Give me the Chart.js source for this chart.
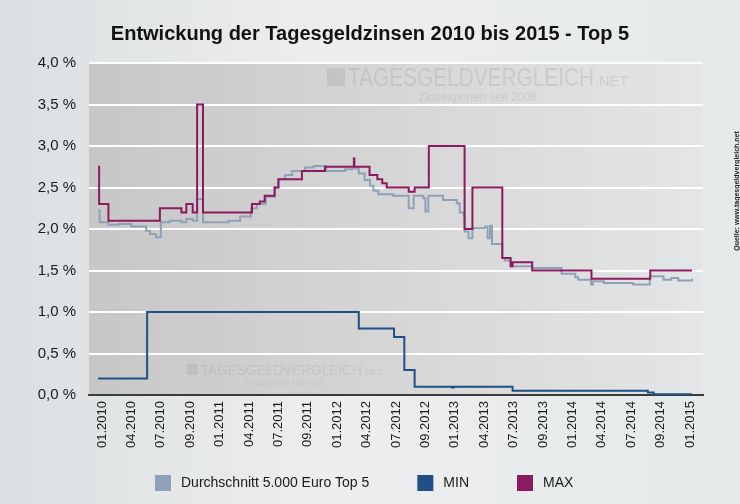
<!DOCTYPE html>
<html>
<head>
<meta charset="utf-8">
<script src="https://cdn.jsdelivr.net/npm/chart.js@4.4.1/dist/chart.umd.min.js"></script>
<style>
  html, body { margin: 0; padding: 0; background: #e9ebec; }
  #wrap { width: 740px; height: 504px; position: relative; }
</style>
</head>
<body>
<div id="wrap"><canvas id="c" width="740" height="504"></canvas></div>
<script>
// ---- Data (x = months since 01.2010, y = interest rate in %) ----
const tickMonths = [0,3,6,9,12,15,18,21,24,27,30,33,36,39,42,45,48,51,54,57,60];
const tickLabels = ["01.2010","04.2010","07.2010","09.2010","01.2011","04.2011","07.2011","09.2011",
                    "01.2012","04.2012","07.2012","09.2012","01.2013","04.2013","07.2013","09.2013",
                    "01.2014","04.2014","07.2014","09.2014","01.2015"];

const avgMonths = [-0.4,-0.25,0.65,1.7,3.0,4.5,4.9,5.5,6.0,6.9,8.1,8.6,9.25,9.7,10.3,12.9,14.1,15.2,15.8,16.7,
  17.65,18.0,18.7,19.4,20.7,21.6,22.9,24.8,25.5,26.2,26.8,27.35,27.7,28.2,29.7,31.3,31.8,32.8,33.0,33.3,
  34.8,36.2,36.5,36.9,37.0,37.4,37.8,39.1,39.35,39.6,39.8,40.85,41.1,41.7,43.9,46.9,48.3,48.6,49.9,50.1,
  51.2,54.2,55.9,57.3,58.1,58.8,60.2];
const avgValues = [2.22,2.08,2.05,2.06,2.03,1.98,1.94,1.90,2.08,2.10,2.08,2.12,2.10,2.36,2.08,2.10,2.15,2.25,2.30,2.39,
  2.50,2.60,2.65,2.70,2.74,2.76,2.70,2.72,2.73,2.67,2.59,2.52,2.46,2.42,2.40,2.25,2.40,2.37,2.21,2.40,
  2.35,2.31,2.20,2.16,1.97,1.89,2.01,2.03,1.89,2.04,1.82,1.65,1.62,1.55,1.53,1.46,1.42,1.39,1.33,1.37,
  1.35,1.33,1.43,1.39,1.41,1.38,1.40];

const minMonths = [-0.4,4.6,26.2,29.8,30.85,31.9,35.7,35.9,41.9,55.7,56.3,60.2];
const minValues = [0.20,1.00,0.80,0.70,0.30,0.10,0.09,0.10,0.05,0.03,0.01,0.01];

const maxMonths = [-0.4,-0.3,0.65,5.9,8.1,8.6,9.25,9.7,10.3,15.3,16.1,16.6,17.6,18.0,20.4,22.75,25.7,25.75,
  27.3,28.1,28.6,29.05,31.3,31.9,33.35,37.0,37.8,40.85,41.7,41.9,43.9,49.95,55.95,60.2];
const maxValues = [2.75,2.30,2.10,2.25,2.20,2.30,2.20,3.50,2.20,2.30,2.33,2.40,2.50,2.60,2.70,2.75,2.85,2.75,
  2.65,2.60,2.55,2.50,2.45,2.50,3.00,2.00,2.50,1.65,1.55,1.60,1.50,1.40,1.50,1.50];

const seriesNames = ["Durchschnitt 5.000 Euro Top 5", "MIN", "MAX"];
const seriesColors = ["#8ea1b6", "#1f4f83", "#8c1a5f"];

const titleText = "Entwickung der Tagesgeldzinsen 2010 bis 2015 - Top 5";
const sourceText = "Quelle: www.tagesgeldvergleich.net";

const toPts = (xs, ys) => xs.map((x, i) => ({ x: x, y: ys[i] }));
const FONT = "'Liberation Sans', Arial, sans-serif";

const decoPlugin = {
  id: 'deco',
  beforeDraw(chart) {
    const { ctx, chartArea: a, width, height } = chart;
    ctx.save();
    // page background
    const g = ctx.createLinearGradient(0, 0, width, 0);
    g.addColorStop(0, '#dcdfe1');
    g.addColorStop(0.45, '#eceeef');
    g.addColorStop(1, '#e6e9ea');
    ctx.fillStyle = g;
    ctx.fillRect(0, 0, width, height);
    // plot area background
    const pg = ctx.createLinearGradient(a.left, 0, a.right, 0);
    pg.addColorStop(0, '#c7c7c7');
    pg.addColorStop(0.5, '#d6d6d6');
    pg.addColorStop(1, '#e4e5e6');
    ctx.fillStyle = pg;
    ctx.fillRect(a.left, a.top, a.right - a.left, a.bottom - a.top);
    ctx.restore();
  },
  beforeDatasetsDraw(chart) {
    const { ctx } = chart;
    ctx.save();
    const wm = (x, y, big, w1, w2, subX, subY, subSize, subW, alpha) => {
      ctx.fillStyle = 'rgba(140,140,140,' + alpha + ')';
      // icon
      const ih = big * 0.72;
      ctx.fillRect(x, y - ih, ih, ih);
      ctx.font = big + 'px ' + FONT;
      ctx.textAlign = 'left';
      ctx.textBaseline = 'alphabetic';
      ctx.fillText('TAGESGELDVERGLEICH', x + ih + 3, y, w1);
      ctx.font = Math.round(big * 0.6) + 'px ' + FONT;
      ctx.fillText('.NET', x + ih + 3 + w1 + 1, y, w2);
      ctx.font = subSize + 'px ' + FONT;
      ctx.fillText('Zinsexperten seit 2006', subX, subY, subW);
    };
    wm(327, 86, 25, 246, 33, 419, 101, 12, 118, 0.22);
    wm(187, 375, 15, 161, 20, 245, 385, 8, 78, 0.2);
    ctx.restore();
  },
  afterDraw(chart) {
    const { ctx } = chart;
    ctx.save();
    // title
    ctx.fillStyle = '#111';
    ctx.font = 'bold 20px ' + FONT;
    ctx.textAlign = 'center';
    ctx.textBaseline = 'alphabetic';
    ctx.fillText(titleText, 370, 40);
    // source, rotated
    ctx.translate(737, 191);
    ctx.rotate(-Math.PI / 2);
    ctx.font = 'bold 7px ' + FONT;
    ctx.fillStyle = '#222';
    ctx.textBaseline = 'middle';
    ctx.fillText(sourceText, 0, 0);
    ctx.setTransform(1, 0, 0, 1, 0, 0);
    // legend
    ctx.font = '14px ' + FONT;
    ctx.textAlign = 'left';
    ctx.textBaseline = 'middle';
    let x = 155;
    chart.data.datasets.forEach((ds) => {
      ctx.fillStyle = ds.borderColor;
      ctx.fillRect(x, 475, 16, 16);
      ctx.fillStyle = '#1a1a1a';
      ctx.fillText(ds.label, x + 26, 483);
      x += 26 + ctx.measureText(ds.label).width + 48;
    });
    ctx.restore();
  }
};

new Chart(document.getElementById('c'), {
  type: 'line',
  data: {
    datasets: [
      { label: seriesNames[0], data: toPts(avgMonths, avgValues), borderColor: seriesColors[0], backgroundColor: seriesColors[0], order: 2 },
      { label: seriesNames[1], data: toPts(minMonths, minValues), borderColor: seriesColors[1], backgroundColor: seriesColors[1], order: 1 },
      { label: seriesNames[2], data: toPts(maxMonths, maxValues), borderColor: seriesColors[2], backgroundColor: seriesColors[2], order: 0 }
    ]
  },
  options: {
    responsive: false,
    animation: false,
    devicePixelRatio: 1,
    layout: { padding: { top: 63, right: 37, left: 0, bottom: 0 } },
    elements: {
      line: { borderWidth: 2, stepped: true, tension: 0, fill: false, borderCapStyle: 'butt', borderJoinStyle: 'miter' },
      point: { radius: 0, hoverRadius: 0 }
    },
    plugins: { legend: { display: false }, title: { display: false }, tooltip: { enabled: false } },
    events: [],
    scales: {
      x: {
        type: 'linear',
        min: -1.333,
        max: 61.333,
        afterFit(s) { s.height = 109; },
        afterBuildTicks(s) { s.ticks = tickMonths.map(v => ({ value: v })); },
        grid: { display: false, drawTicks: false },
        border: { display: true, color: '#3b3b3b', width: 2 },
        ticks: {
          autoSkip: false,
          minRotation: 90,
          maxRotation: 90,
          padding: 6,
          color: '#1a1a1a',
          font: { family: FONT, size: 13 },
          callback: (v, i) => tickLabels[i]
        }
      },
      y: {
        min: 0,
        max: 4,
        afterFit(s) { s.width = 89; },
        grid: {
          drawTicks: false,
          lineWidth: 2,
          color: (c) => (c.tick && c.tick.value === 0) ? 'rgba(0,0,0,0)' : '#ffffff'
        },
        border: { display: false },
        ticks: {
          stepSize: 0.5,
          padding: 13,
          color: '#1a1a1a',
          font: { family: FONT, size: 15 },
          callback: (v) => v.toFixed(1).replace('.', ',') + ' %'
        }
      }
    }
  },
  plugins: [decoPlugin]
});
</script>
</body>
</html>
